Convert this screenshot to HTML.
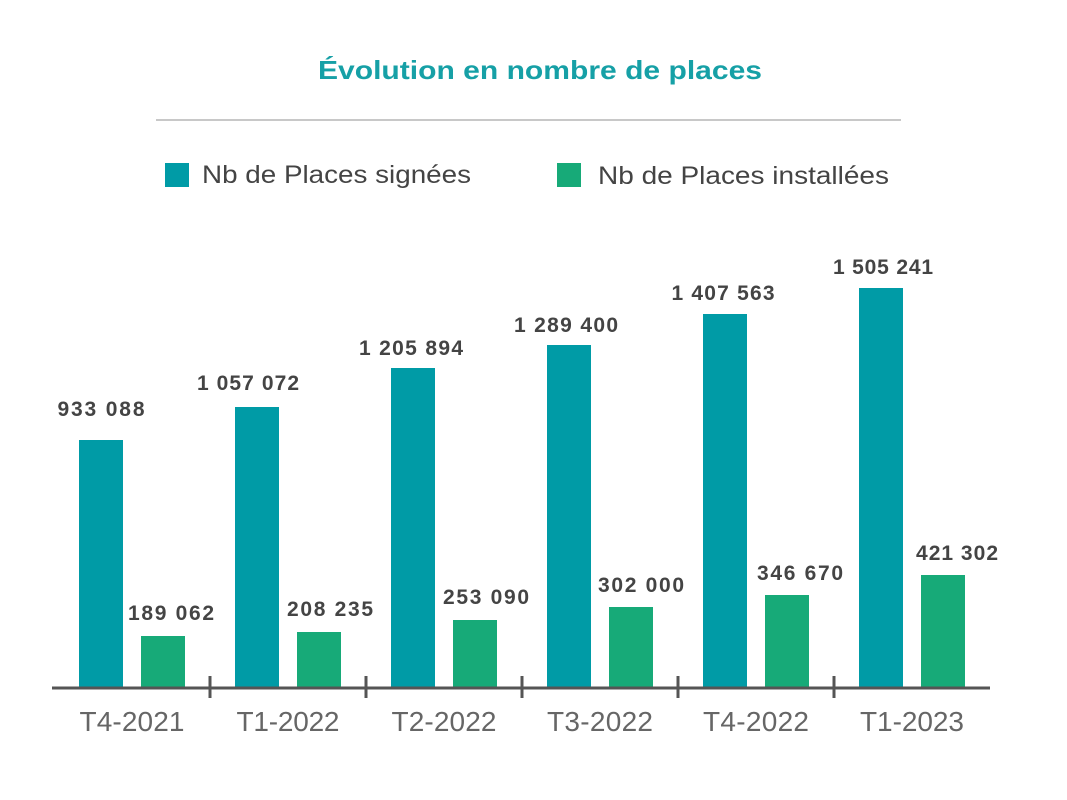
<!DOCTYPE html>
<html><head><meta charset="utf-8"><style>
body{margin:0;background:#fff;}
svg{display:block;font-family:"Liberation Sans",sans-serif;}
</style></head><body>
<svg width="1067" height="800" viewBox="0 0 1067 800">
<text x="540" y="79" text-anchor="middle" font-size="26" font-weight="bold" fill="#16a0a6" textLength="444" lengthAdjust="spacingAndGlyphs">Évolution en nombre de places</text>
<line x1="156" y1="120" x2="901" y2="120" stroke="#c8c8c8" stroke-width="2"/>
<rect x="165" y="163" width="24" height="24" fill="#009ba6"/>
<text x="202" y="183" font-size="25" fill="#444" textLength="269" lengthAdjust="spacingAndGlyphs">Nb de Places signées</text>
<rect x="557" y="163" width="24" height="24" fill="#17aa78"/>
<text x="598" y="184" font-size="25" fill="#444" textLength="291" lengthAdjust="spacingAndGlyphs">Nb de Places installées</text>
<g fill="#009ba6">
<rect x="79" y="440" width="44" height="248"/>
<rect x="235" y="407" width="44" height="281"/>
<rect x="391" y="368" width="44" height="320"/>
<rect x="547" y="345" width="44" height="343"/>
<rect x="703" y="314" width="44" height="374"/>
<rect x="859" y="288" width="44" height="400"/>
</g>
<g fill="#17aa78">
<rect x="141" y="636" width="44" height="52"/>
<rect x="297" y="632" width="44" height="56"/>
<rect x="453" y="620" width="44" height="68"/>
<rect x="609" y="607" width="44" height="81"/>
<rect x="765" y="595" width="44" height="93"/>
<rect x="921" y="575" width="44" height="113"/>
</g>
<g font-size="21" font-weight="bold" fill="#444" text-anchor="middle" lengthAdjust="spacingAndGlyphs">
<text x="101" y="416" textLength="87">933 088</text>
<text x="248" y="390" textLength="102">1 057 072</text>
<text x="411" y="355" textLength="104">1 205 894</text>
<text x="566" y="332" textLength="104">1 289 400</text>
<text x="723" y="300" textLength="103">1 407 563</text>
<text x="883" y="274" textLength="100">1 505 241</text>
<text x="171" y="620" textLength="86">189 062</text>
<text x="330" y="616" textLength="86">208 235</text>
<text x="486" y="604" textLength="86">253 090</text>
<text x="641" y="592" textLength="86">302 000</text>
<text x="800" y="580" textLength="86">346 670</text>
<text x="957" y="560" textLength="82">421 302</text>
</g>
<line x1="52" y1="688" x2="990" y2="688" stroke="#555" stroke-width="3"/>
<g stroke="#555" stroke-width="3">
<line x1="210" y1="676" x2="210" y2="698"/>
<line x1="366" y1="676" x2="366" y2="698"/>
<line x1="522" y1="676" x2="522" y2="698"/>
<line x1="678" y1="676" x2="678" y2="698"/>
<line x1="834" y1="676" x2="834" y2="698"/>
</g>
<g font-size="28" fill="#666" text-anchor="middle" lengthAdjust="spacingAndGlyphs">
<text x="132" y="731" textLength="105">T4-2021</text>
<text x="288" y="731" textLength="103">T1-2022</text>
<text x="444" y="731" textLength="105">T2-2022</text>
<text x="600" y="731" textLength="106">T3-2022</text>
<text x="756" y="731" textLength="106">T4-2022</text>
<text x="912" y="731" textLength="104">T1-2023</text>
</g>
</svg>
</body></html>
